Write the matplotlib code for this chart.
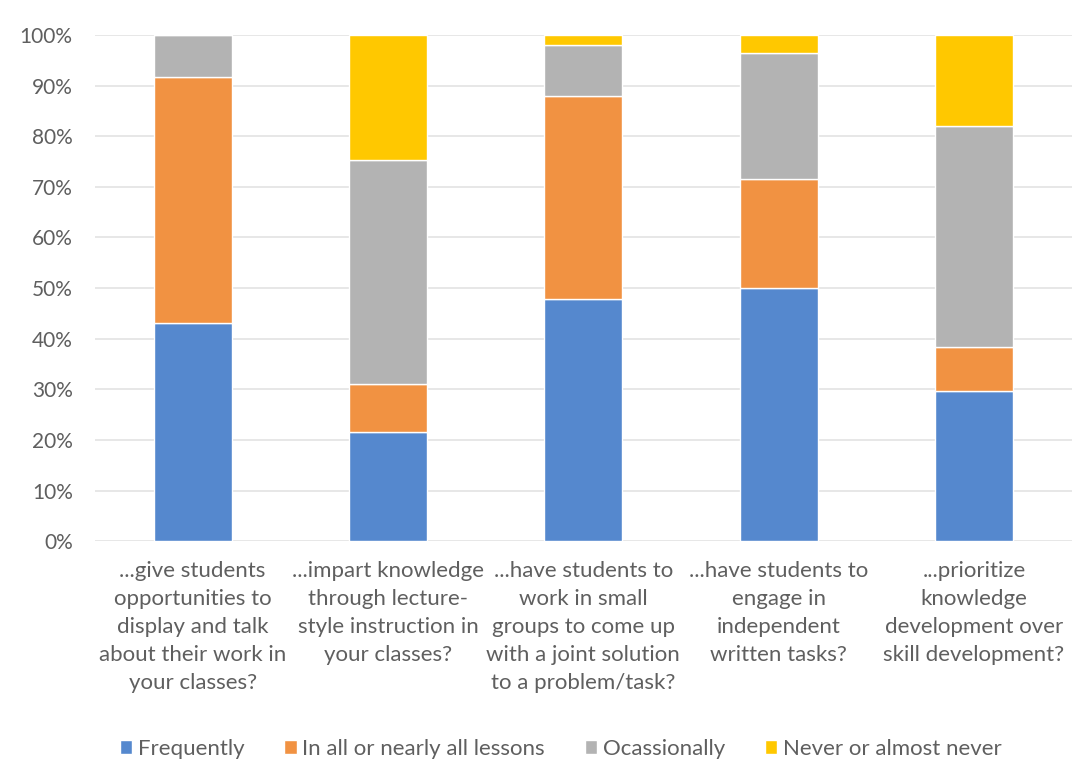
import numpy as np
import matplotlib.pyplot as plt
from matplotlib.ticker import PercentFormatter

plt.rcParams['font.family'] = ['Lato', 'DejaVu Sans']

# pertanyaan (kategori sumbu x)
kategori = [
    '...give students\nopportunities to\ndisplay and talk\nabout their work in\nyour classes?',
    '...impart knowledge\nthrough lecture-\nstyle instruction in\nyour classes?',
    '...have students to\nwork in small\ngroups to come up\nwith a joint solution\nto a problem/task?',
    '...have students to\nengage in\nindependent\nwritten tasks?',
    '...prioritize\nknowledge\ndevelopment over\nskill development?',
]

# persentase tiap jawaban
frequently = [43.0, 21.5, 47.8, 50.0, 29.7]
all_lessons = [48.7, 9.5, 40.1, 21.5, 8.6]
occasionally = [8.3, 44.3, 10.1, 24.9, 43.7]
never = [0.0, 24.7, 2.0, 3.6, 18.0]

seri = ['Frequently', 'In all or nearly all lessons', 'Ocassionally', 'Never or almost never']
nilai = [frequently, all_lessons, occasionally, never]
warna = ['#5588CE', '#F19242', '#B3B3B3', '#FFC800']

teks = '#5F5F5F'

fig = plt.figure(figsize=(10.72, 7.59), dpi=100)
ax = fig.add_axes([0.0886, 0.287, 0.911, 0.667])

x = np.arange(len(kategori))
bawah = np.zeros(len(kategori))
for nama, v, c in zip(seri, nilai, warna):
    v = np.array(v)
    ax.bar(x, v, width=0.4, bottom=bawah, color=c, edgecolor='white',
           linewidth=1.0, label=nama, zorder=3)
    bawah += v

ax.set_xlim(-0.5, 4.5)
ax.set_ylim(0, 100)
ax.set_yticks(np.arange(0, 101, 10))
ax.yaxis.set_major_formatter(PercentFormatter(decimals=0))
ax.grid(axis='y', color='#E3E3E3', linewidth=1.2, zorder=0)
for s in ax.spines.values():
    s.set_visible(False)

ax.set_xticks(x)
ax.set_xticklabels(kategori, fontsize=16, color=teks, linespacing=1.5)
ax.tick_params(axis='x', length=0, pad=14)
ax.tick_params(axis='y', length=0, pad=16, labelsize=15, labelcolor=teks)

fig.legend(loc='lower center', bbox_to_anchor=(0.523, -0.026), ncol=4, frameon=False,
           fontsize=16, labelcolor=teks, handlelength=0.55, handleheight=0.55,
           handletextpad=0.25, columnspacing=1.8)

fig.savefig('out.png', dpi=100)
